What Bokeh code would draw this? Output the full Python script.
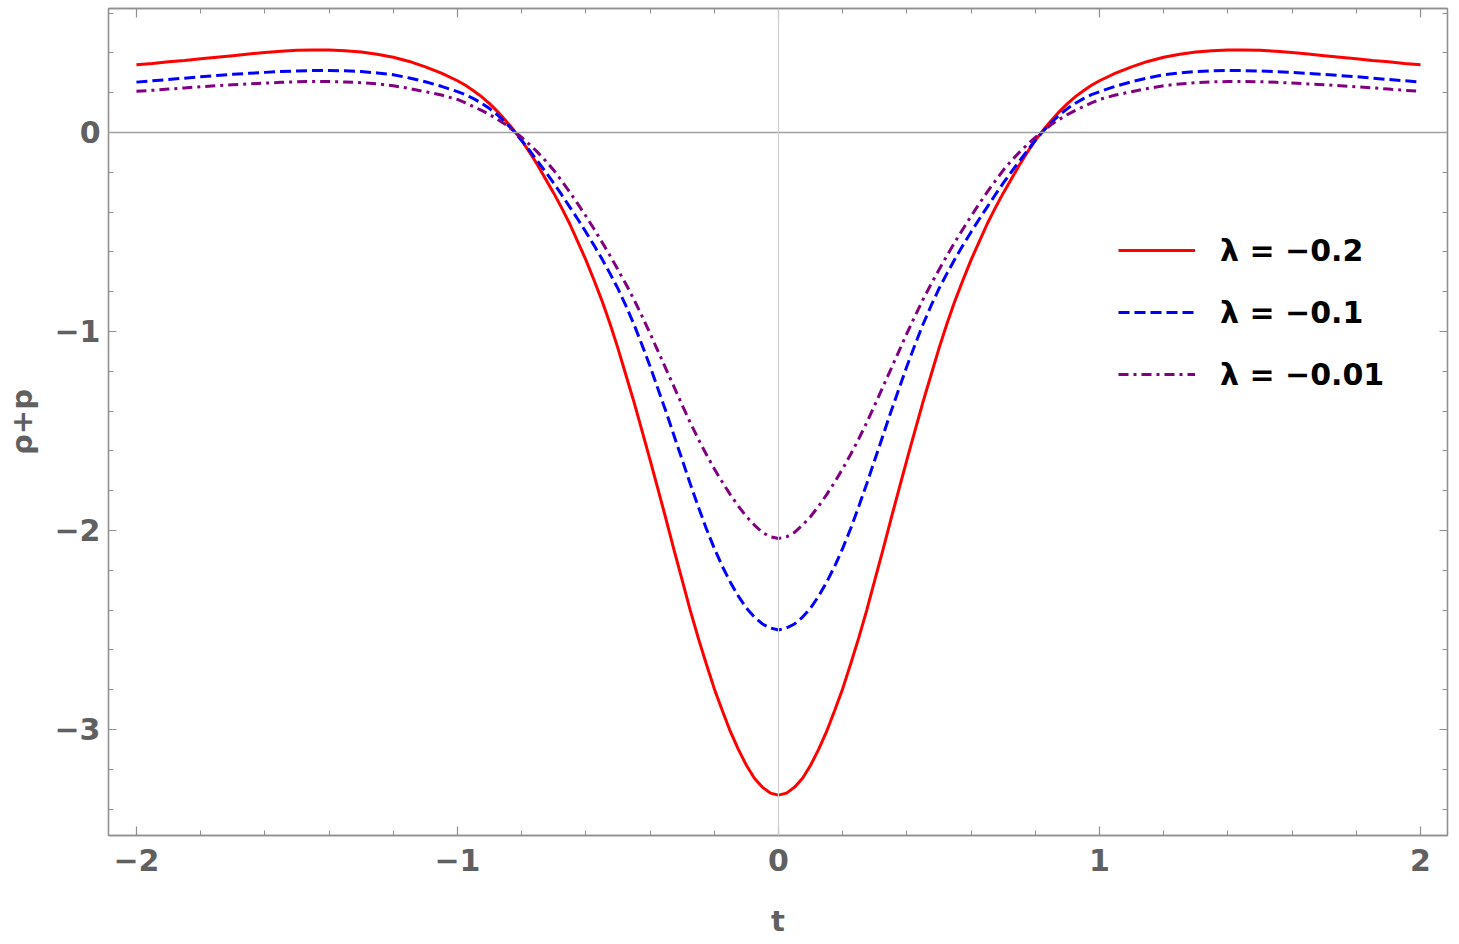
from bokeh.plotting import figure
from bokeh.models import (Range1d, FixedTicker, LinearAxis, Span, Legend, LegendItem,
                          CustomLabelingPolicy)
from bokeh.embed import file_html
from bokeh.resources import INLINE

# ---- data ----
t = [-2.0, -1.95, -1.9, -1.85, -1.8, -1.75, -1.7, -1.65, -1.6, -1.55,
     -1.5, -1.45, -1.4, -1.35, -1.3, -1.25, -1.2, -1.15, -1.1, -1.05,
     -1.0, -0.975, -0.95, -0.925, -0.9, -0.875, -0.85, -0.825, -0.8, -0.775,
     -0.75, -0.725, -0.7, -0.675, -0.65, -0.625, -0.6, -0.575, -0.55, -0.525,
     -0.5, -0.475, -0.45, -0.425, -0.4, -0.375, -0.35, -0.325, -0.3, -0.275,
     -0.25, -0.225, -0.2, -0.175, -0.15, -0.125, -0.1, -0.075, -0.05, -0.025,
     0.0,
     0.025, 0.05, 0.075, 0.1, 0.125, 0.15, 0.175, 0.2, 0.225, 0.25,
     0.275, 0.3, 0.325, 0.35, 0.375, 0.4, 0.425, 0.45, 0.475, 0.5,
     0.525, 0.55, 0.575, 0.6, 0.625, 0.65, 0.675, 0.7, 0.725, 0.75,
     0.775, 0.8, 0.825, 0.85, 0.875, 0.9, 0.925, 0.95, 0.975, 1.0,
     1.05, 1.1, 1.15, 1.2, 1.25, 1.3, 1.35, 1.4, 1.45, 1.5,
     1.55, 1.6, 1.65, 1.7, 1.75, 1.8, 1.85, 1.9, 1.95, 2.0]

lam_m02 = [0.34, 0.347, 0.355, 0.362, 0.37, 0.378, 0.386, 0.394, 0.402, 0.408,
           0.413, 0.415, 0.415, 0.411, 0.404, 0.393, 0.378, 0.357, 0.33, 0.298,
           0.26, 0.237, 0.21, 0.18, 0.145, 0.105, 0.06, 0.012, -0.04, -0.10,
           -0.165, -0.235, -0.305, -0.38, -0.46, -0.55, -0.64, -0.74, -0.845, -0.96,
           -1.085, -1.22, -1.355, -1.50, -1.645, -1.795, -1.945, -2.10, -2.25, -2.40,
           -2.54, -2.67, -2.795, -2.905, -3.01, -3.10, -3.18, -3.245, -3.29, -3.32,
           -3.33,
           -3.32, -3.29, -3.245, -3.18, -3.10, -3.01, -2.905, -2.795, -2.67, -2.54,
           -2.40, -2.25, -2.10, -1.945, -1.795, -1.645, -1.50, -1.355, -1.22, -1.085,
           -0.96, -0.845, -0.74, -0.64, -0.55, -0.46, -0.38, -0.305, -0.235, -0.165,
           -0.10, -0.04, 0.012, 0.06, 0.105, 0.145, 0.18, 0.21, 0.237, 0.26,
           0.298, 0.33, 0.357, 0.378, 0.393, 0.404, 0.411, 0.415, 0.415, 0.413,
           0.408, 0.402, 0.394, 0.386, 0.378, 0.37, 0.362, 0.355, 0.347, 0.34]

lam_m01 = [0.253, 0.26, 0.266, 0.273, 0.28, 0.286, 0.292, 0.297, 0.302, 0.306,
           0.309, 0.311, 0.311, 0.31, 0.306, 0.299, 0.29, 0.274, 0.255, 0.232,
           0.205, 0.19, 0.17, 0.147, 0.12, 0.088, 0.05, 0.007, -0.04, -0.092,
           -0.145, -0.199, -0.255, -0.314, -0.375, -0.436, -0.50, -0.566, -0.635, -0.708,
           -0.785, -0.872, -0.965, -1.068, -1.175, -1.29, -1.405, -1.525, -1.645, -1.765,
           -1.88, -1.99, -2.09, -2.18, -2.26, -2.33, -2.39, -2.435, -2.47, -2.49,
           -2.50,
           -2.49, -2.47, -2.435, -2.39, -2.33, -2.26, -2.18, -2.09, -1.99, -1.88,
           -1.765, -1.645, -1.525, -1.405, -1.29, -1.175, -1.068, -0.965, -0.872, -0.785,
           -0.708, -0.635, -0.566, -0.50, -0.436, -0.375, -0.314, -0.255, -0.199, -0.145,
           -0.092, -0.04, 0.007, 0.05, 0.088, 0.12, 0.147, 0.17, 0.19, 0.205,
           0.232, 0.255, 0.274, 0.29, 0.299, 0.306, 0.31, 0.311, 0.311, 0.309,
           0.306, 0.302, 0.297, 0.292, 0.286, 0.28, 0.273, 0.266, 0.26, 0.253]

lam_m001 = [0.207, 0.212, 0.218, 0.224, 0.23, 0.235, 0.24, 0.244, 0.248, 0.252,
            0.255, 0.256, 0.256, 0.254, 0.25, 0.244, 0.235, 0.221, 0.205, 0.188,
            0.166, 0.149, 0.13, 0.111, 0.09, 0.066, 0.04, 0.008, -0.025, -0.061,
            -0.10, -0.143, -0.19, -0.244, -0.30, -0.359, -0.42, -0.484, -0.55, -0.618,
            -0.69, -0.763, -0.84, -0.923, -1.01, -1.10, -1.19, -1.28, -1.37, -1.457,
            -1.54, -1.617, -1.69, -1.757, -1.82, -1.878, -1.93, -1.973, -2.01, -2.032,
            -2.04,
            -2.032, -2.01, -1.973, -1.93, -1.878, -1.82, -1.757, -1.69, -1.617, -1.54,
            -1.457, -1.37, -1.28, -1.19, -1.10, -1.01, -0.923, -0.84, -0.763, -0.69,
            -0.618, -0.55, -0.484, -0.42, -0.359, -0.30, -0.244, -0.19, -0.143, -0.10,
            -0.061, -0.025, 0.008, 0.04, 0.066, 0.09, 0.111, 0.13, 0.149, 0.166,
            0.188, 0.205, 0.221, 0.235, 0.244, 0.25, 0.254, 0.256, 0.256, 0.255,
            0.252, 0.248, 0.244, 0.24, 0.235, 0.23, 0.224, 0.218, 0.212, 0.207]

labels = ["\u03bb = \u22120.2", "\u03bb = \u22120.1", "\u03bb = \u22120.01"]

x_major = [-2, -1, 0, 1, 2]
x_minor = [-2.0, -1.8, -1.6, -1.4, -1.2, -1.0, -0.8, -0.6, -0.4, -0.2, 0.0,
           0.2, 0.4, 0.6, 0.8, 1.0, 1.2, 1.4, 1.6, 1.8, 2.0]
y_major = [-3, -2, -1, 0]
y_minor = [-3.4, -3.2, -3.0, -2.8, -2.6, -2.4, -2.2, -2.0, -1.8, -1.6, -1.4,
           -1.2, -1.0, -0.8, -0.6, -0.4, -0.2, 0.0, 0.2, 0.4, 0.6]
x_tick_labels = {-2: "\u22122", -1: "\u22121", 0: "0", 1: "1", 2: "2"}
y_tick_labels = {-3: "\u22123", -2: "\u22122", -1: "\u22121", 0: "0"}

FONT = "DejaVu Sans"
FRAME = "#8f8f8f"
LABEL = "#606060"

p = figure(width=1459, height=944, output_backend="svg", toolbar_location=None,
           x_range=Range1d(-2.087, 2.084), y_range=Range1d(-3.533, 0.623),
           min_border_left=108, min_border_right=12, min_border_top=8,
           min_border_bottom=109, x_axis_label="t", y_axis_label="\u03c1+p")
p.background_fill_color = "white"
p.border_fill_color = "white"
p.outline_line_color = FRAME
p.outline_line_width = 1.3
p.xgrid.visible = False
p.ygrid.visible = False

# axis lines through origin
p.add_layout(Span(location=0, dimension="width", line_color="#a0a0a0", line_width=1.5))
p.add_layout(Span(location=0, dimension="height", line_color="#cfcfcf", line_width=1.2))

r1 = p.line(t, lam_m02, line_color="#ff0000", line_width=3)
r2 = p.line(t, lam_m01, line_color="#0000ff", line_width=3, line_dash="11 5")
r3 = p.line(t, lam_m001, line_color="#800080", line_width=3, line_dash="10 5 3 5")


def style_axis(ax, major, minor, overrides, tick_major, tick_minor, show_labels):
    ax.ticker = FixedTicker(ticks=major, minor_ticks=minor)
    ax.axis_line_color = FRAME
    ax.axis_line_width = 1.3
    ax.major_tick_line_color = FRAME
    ax.minor_tick_line_color = FRAME
    ax.major_tick_line_width = 1.2
    ax.minor_tick_line_width = 1.0
    ax.major_tick_in = tick_major
    ax.major_tick_out = 0
    ax.minor_tick_in = tick_minor
    ax.minor_tick_out = 0
    if show_labels:
        ax.major_label_overrides = overrides
        ax.major_label_text_font = FONT
        ax.major_label_text_font_style = "bold"
        ax.major_label_text_font_size = "30px"
        ax.major_label_text_color = LABEL
        ax.axis_label_text_font = FONT
        ax.axis_label_text_font_style = "bold"
        ax.axis_label_text_font_size = "29px"
        ax.axis_label_text_color = LABEL
    else:
        ax.major_label_policy = CustomLabelingPolicy(code="return []")
        ax.major_label_text_font_size = "1px"
        ax.major_label_standoff = 0
        ax.axis_label = None


xa = p.xaxis[0]
style_axis(xa, x_major, x_minor, x_tick_labels, 9, 5, True)
xa.major_label_standoff = 13
xa.axis_label_standoff = 30

ya = p.yaxis[0]
style_axis(ya, y_major, y_minor, y_tick_labels, 8, 5, True)
ya.major_label_standoff = 8
ya.axis_label_standoff = 12

top = LinearAxis()
style_axis(top, x_major, x_minor, {}, 9, 5, False)
p.add_layout(top, "above")
right = LinearAxis()
style_axis(right, y_major, y_minor, {}, 8, 5, False)
p.add_layout(right, "right")

legend = Legend(items=[LegendItem(label=labels[0], renderers=[r1]),
                       LegendItem(label=labels[1], renderers=[r2]),
                       LegendItem(label=labels[2], renderers=[r3])],
                location=(1010, 441))
legend.background_fill_alpha = 0
legend.border_line_alpha = 0
legend.padding = 0
legend.margin = 0
legend.spacing = 22
legend.glyph_width = 77
legend.glyph_height = 40
legend.label_height = 40
legend.label_standoff = 25
legend.label_text_font = FONT
legend.label_text_font_style = "bold"
legend.label_text_font_size = "30px"
legend.label_text_color = "black"
legend.label_text_baseline = "middle"
p.add_layout(legend, "center")

open("out.html", "w").write(file_html(p, INLINE))
